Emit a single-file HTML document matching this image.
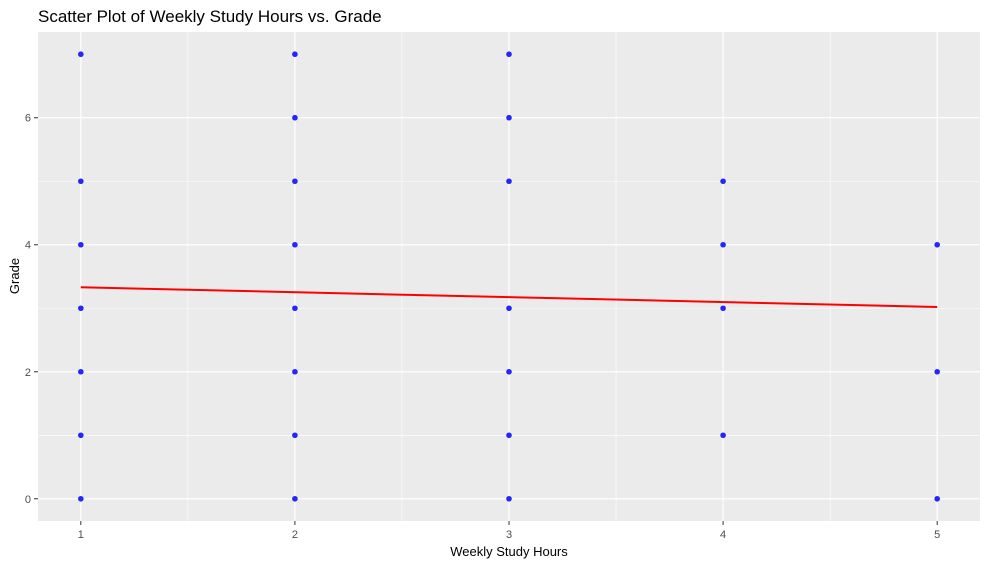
<!DOCTYPE html>
<html><head><meta charset="utf-8"><style>
body{margin:0;background:#fff;}
svg{display:block;font-family:"Liberation Sans",sans-serif;}
</style></head><body>
<svg id="chart" width="989" height="567">
<text x="38" y="22" font-size="17" fill="#000">Scatter Plot of Weekly Study Hours vs. Grade</text>
<g id="panel"></g>
<text x="509" y="556" font-size="13" text-anchor="middle" fill="#000">Weekly Study Hours</text>
<text x="0" y="0" font-size="13" text-anchor="middle" fill="#000" transform="translate(19,276) rotate(-90)">Grade</text>
</svg>
<script>
const xs = [1,1,1,1,1,1,1, 2,2,2,2,2,2,2,2, 3,3,3,3,3,3,3, 4,4,4,4, 5,5,5];
const ys = [0,1,2,3,4,5,7, 0,1,2,3,4,5,6,7, 0,1,2,3,5,6,7, 1,3,4,5, 0,2,4];
const xTicks = [1,2,3,4,5];
const yTicks = [0,2,4,6];
const fitLine = {x0:1, y0:3.33, x1:5, y1:3.02};
const L=38,R=980,T=32,B=521;
const xMin=0.8,xMax=5.2,yMin=-0.35,yMax=7.35;
const sx=v=>L+(v-xMin)/(xMax-xMin)*(R-L);
const sy=v=>B-(v-yMin)/(yMax-yMin)*(B-T);
const NS="http://www.w3.org/2000/svg";
const svg=document.getElementById('chart');
const panel=document.getElementById('panel');
function mk(tag,attrs,parent){const e=document.createElementNS(NS,tag);for(const k in attrs)e.setAttribute(k,attrs[k]);(parent||panel).appendChild(e);return e;}
const bg=mk('rect',{x:L,y:T,width:R-L,height:B-T,fill:'#ebebeb'});


for(let i=0;i<xTicks.length-1;i++){const v=(xTicks[i]+xTicks[i+1])/2;
 const g=mk('line',{x1:sx(v),x2:sx(v),y1:T,y2:B,stroke:'#fff','stroke-width':0.6});
 
 }
for(let v=yTicks[0]+1;v<yTicks[yTicks.length-1];v+=2){
 const g=mk('line',{x1:L,x2:R,y1:sy(v),y2:sy(v),stroke:'#fff','stroke-width':0.6});
 
 }
xTicks.forEach(v=>{
 const g=mk('line',{x1:sx(v),x2:sx(v),y1:T,y2:B,stroke:'#fff','stroke-width':1.2});
 
 
 const t=mk('line',{x1:sx(v),x2:sx(v),y1:B,y2:B+4,stroke:'#333'},svg);
 
 
 const l=mk('text',{x:sx(v),y:B+17,'font-size':11,'text-anchor':'middle',fill:'#4d4d4d'},svg);
 l.textContent=v;
 
 
});
yTicks.forEach(v=>{
 const g=mk('line',{x1:L,x2:R,y1:sy(v),y2:sy(v),stroke:'#fff','stroke-width':1.2});
 
 
 const t=mk('line',{x1:L-4,x2:L,y1:sy(v),y2:sy(v),stroke:'#333'},svg);
 
 
 const l=mk('text',{x:L-7,y:sy(v)+4,'font-size':11,'text-anchor':'end',fill:'#4d4d4d'},svg);
 l.textContent=v;
 
 
});
xs.forEach((x,i)=>{
 const c=mk('circle',{cx:sx(x),cy:sy(ys[i]),r:2.8,fill:'#0000ff','fill-opacity':0.85});
 
 
});
const fl=mk('line',{x1:sx(fitLine.x0),y1:sy(fitLine.y0),x2:sx(fitLine.x1),y2:sy(fitLine.y1),stroke:'#ff0000','stroke-width':2});


</script>
</body></html>
